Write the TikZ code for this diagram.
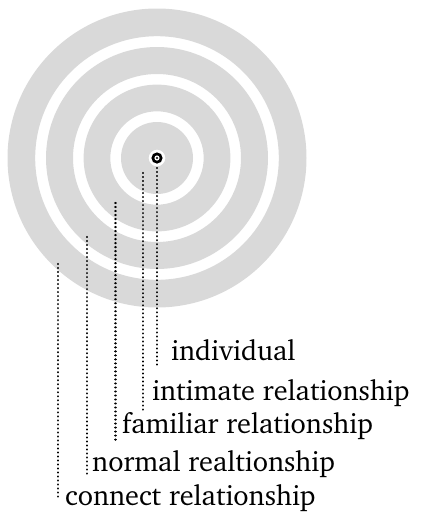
\documentclass[tikz,border=0pt]{standalone}
\usepackage[T1]{fontenc}
\renewcommand{\rmdefault}{bch}
\begin{document}
\begin{tikzpicture}[x=1pt,y=-1pt,
  ring/.style={fill=gray!30, even odd rule},
  leader/.style={line width=2.3pt, line cap=round, dash pattern=on 0.01pt off 4pt},
  lab/.style={anchor=base west, inner sep=0pt, font=\fontsize{28.3}{32}\selectfont}]
\useasboundingbox (0,0) rectangle (425,512);
\coordinate (c) at (157,158);
% rings
\fill[ring] (c) circle (149.5) (c) circle (121.8);
\fill[ring] (c) circle (111) (c) circle (84);
\fill[ring] (c) circle (73.4) (c) circle (46.7);
\fill[ring] (c) circle (36) (c) circle (8.4);
% centre mark
\fill[black] (c) circle (5.6);
\fill[white] (c) circle (2.6);
\fill[black] (c) circle (1.2);
% labels
\node[lab] (l1) at (171,360) {individual};
\node[lab] (l2) at (152,400) {intimate relationship};
\node[lab] (l3) at (122,433) {familiar relationship};
\node[lab] (l4) at (92,471.5) {normal realtionship};
\node[lab] (l5) at (65,505) {connect relationship};
% leader lines
\coordinate (t1) at (157,168);   \coordinate (b1) at (157,368);
\coordinate (t2) at (142.7,173); \coordinate (b2) at (142.7,410);
\coordinate (t3) at (115.5,203); \coordinate (b3) at (115.5,441);
\coordinate (t4) at (87,237);    \coordinate (b4) at (87,475);
\coordinate (t5) at (58.3,264);  \coordinate (b5) at (58.3,500);
\draw[leader] (t1) -- (b1);
\draw[leader] (t2) -- (b2);
\draw[leader] (t3) -- (b3);
\draw[leader] (t4) -- (b4);
\draw[leader] (t5) -- (b5);
\end{tikzpicture}
\end{document}
